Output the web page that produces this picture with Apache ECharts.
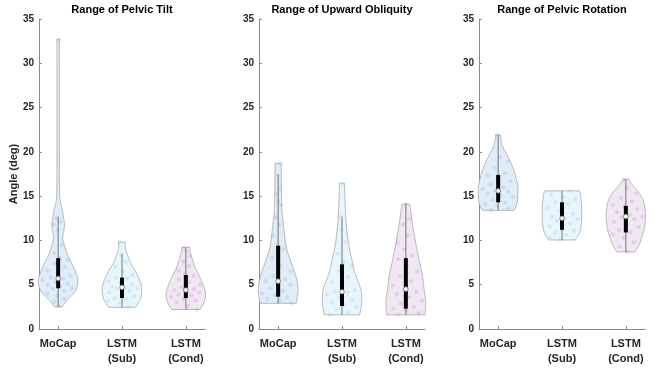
<!DOCTYPE html>
<html>
<head>
<meta charset="utf-8">
<script src="https://cdn.jsdelivr.net/npm/echarts@6/dist/echarts.min.js"></script>
<style>
html, body { margin: 0; padding: 0; background: #fff; }
#chart { width: 662px; height: 368px; }
</style>
</head>
<body>
<div id="chart"></div>
<script>
// groups and panel titles
const groups = ['MoCap', 'LSTM\n(Sub)', 'LSTM\n(Cond)']
const titles = ['Range of Pelvic Tilt', 'Range of Upward Obliquity', 'Range of Pelvic Rotation']

// violin outlines: [angle, relative half width] from min to max
const tiltOutlines = [
  [[2.5, 0.2], [3, 0.36], [3.5, 0.56], [4, 0.77], [4.5, 0.92], [5.5, 1], [6.5, 0.87], [7.5, 0.67], [8.5, 0.46], [9.5, 0.31], [10.3, 0.23], [11, 0.28], [11.8, 0.32], [12.5, 0.28], [13.5, 0.2], [14.5, 0.1], [16, 0.065], [20, 0.06], [30, 0.06], [32.7, 0.06]],
  [[2.45, 0.68], [3, 0.84], [3.5, 0.95], [4.5, 1], [5.5, 0.89], [6.5, 0.68], [7.5, 0.42], [8.5, 0.26], [9, 0.18], [9.8, 0.16]],
  [[2.2, 0.72], [3, 0.92], [4, 1], [5, 0.87], [6, 0.67], [7, 0.46], [8, 0.31], [8.7, 0.23], [9.2, 0.2]]
]
const obliquityOutlines = [
  [[2.9, 0.91], [3.65, 0.97], [4.8, 1], [6.3, 0.85], [7.8, 0.61], [9.3, 0.41], [11.5, 0.28], [13.5, 0.19], [15.3, 0.17], [17, 0.16], [18.7, 0.15]],
  [[1.6, 0.89], [2.5, 0.97], [3.5, 1], [4.5, 0.95], [5.5, 0.79], [6.5, 0.63], [7.8, 0.5], [9.5, 0.34], [11.5, 0.23], [13.5, 0.17], [15.3, 0.14], [16.45, 0.13]],
  [[1.6, 0.97], [2.5, 1], [3.3, 1], [4.5, 0.92], [5.9, 0.85], [7.8, 0.67], [9.7, 0.5], [11.5, 0.36], [13.4, 0.24], [14.1, 0.19]]
]
const rotationOutlines = [
  [[13.4, 0.8], [14, 0.93], [14.6, 0.98], [16, 1], [17, 0.91], [18, 0.78], [19, 0.6], [19.5, 0.48], [20.6, 0.23], [21.3, 0.16], [21.9, 0.13]],
  [[10.05, 0.67], [10.5, 0.81], [11, 0.91], [12, 0.99], [13, 1], [14, 0.99], [15, 0.94], [15.6, 0.89]],
  [[8.7, 0.46], [9.2, 0.59], [9.7, 0.71], [10.5, 0.82], [11.2, 0.92], [12, 0.97], [12.9, 1], [13.8, 0.95], [14.6, 0.87], [15.2, 0.72], [15.7, 0.56], [16.3, 0.31], [16.9, 0.15]]
]

// box stats: [whisker low, q1, median, q3, whisker high]
const tiltBoxes = [[2.5, 4.6, 5.7, 8.0, 12.7], [2.45, 3.5, 4.7, 5.8, 8.5], [2.2, 3.5, 4.4, 6.1, 9.2]]
const obliquityBoxes = [[2.9, 3.65, 5.4, 9.4, 17.4], [1.6, 2.6, 4.2, 7.3, 12.7], [1.6, 2.3, 4.5, 8.0, 14.1]]
const rotationBoxes = [[13.4, 14.3, 15.6, 17.4, 21.9], [10.05, 11.2, 12.5, 14.3, 15.6], [8.7, 10.9, 12.7, 13.9, 16.9]]

// individual observations (jittered dots)
const tiltPoints = [
  [2.6, 3.1, 3.4, 3.8, 4.0, 4.3, 4.5, 4.6, 4.8, 5.0, 5.1, 5.3, 5.5, 5.7, 5.8, 6.0, 6.3, 6.6, 7.0, 7.4, 7.8, 8.0, 8.6, 9.5, 11.2, 11.8, 12.1, 12.5, 32.7],
  [2.5, 2.9, 3.2, 3.4, 3.5, 3.7, 3.9, 4.1, 4.3, 4.5, 4.6, 4.7, 4.8, 5.0, 5.2, 5.4, 5.7, 5.8, 6.1, 6.5, 7.0, 7.6, 8.3, 9.8],
  [2.2, 2.6, 3.0, 3.2, 3.4, 3.6, 3.8, 3.9, 4.1, 4.3, 4.4, 4.5, 4.7, 5.0, 5.3, 5.6, 6.0, 6.2, 6.6, 7.1, 7.6, 8.2, 8.8, 9.2]
]
const obliquityPoints = [
  [2.9, 3.2, 3.4, 3.6, 3.8, 4.0, 4.3, 4.6, 5.0, 5.2, 5.4, 5.6, 6.0, 6.5, 7.2, 8.0, 9.0, 9.6, 10.5, 11.8, 12.6, 14.0, 14.5, 15.2, 15.8, 17.4, 18.7],
  [1.6, 1.9, 2.2, 2.5, 2.7, 3.0, 3.3, 3.6, 3.9, 4.1, 4.2, 4.4, 4.8, 5.3, 5.9, 6.5, 7.2, 7.6, 8.5, 9.8, 11.2, 12.7, 16.4],
  [1.6, 1.8, 2.1, 2.3, 2.5, 2.9, 3.2, 3.6, 3.9, 4.2, 4.5, 4.9, 5.4, 5.9, 6.5, 7.2, 7.9, 8.3, 9.0, 9.7, 10.6, 11.8, 12.4, 14.1]
]
const rotationPoints = [
  [13.4, 13.6, 13.9, 14.1, 14.3, 14.6, 14.9, 15.1, 15.3, 15.5, 15.6, 15.8, 16.0, 16.3, 16.7, 17.1, 17.4, 17.6, 18.2, 18.9, 19.4, 21.9],
  [10.05, 10.3, 10.6, 10.9, 11.1, 11.3, 11.6, 11.9, 12.2, 12.4, 12.5, 12.7, 13.0, 13.3, 13.7, 14.1, 14.3, 14.6, 14.9, 15.2, 15.6],
  [8.7, 9.3, 9.8, 10.3, 10.7, 10.9, 11.2, 11.5, 11.8, 12.1, 12.4, 12.6, 12.7, 12.9, 13.2, 13.5, 13.8, 14.0, 14.4, 14.8, 15.3, 15.9, 16.9]
]

const outlines = [tiltOutlines, obliquityOutlines, rotationOutlines]
const boxes = [tiltBoxes, obliquityBoxes, rotationBoxes]
const points = [tiltPoints, obliquityPoints, rotationPoints]

const FONT = 'Arial, "Liberation Sans", sans-serif'
const VIOLIN_WIDTH = 0.31
const fillColors = ['#e0ecf7', '#e8f5fc', '#f0e7f2']
const dotColors = ['rgba(120,175,225,0.25)', 'rgba(140,205,238,0.28)', 'rgba(185,130,205,0.25)']
const gridLefts = [39, 259, 479]
const gridWidth = 166

// catmull-rom through the outline points so the violin sides are smooth
function spline (pts) {
  const out = []
  const steps = 6
  for (let i = 0; i < pts.length - 1; i++) {
    const p0 = pts[i - 1] || pts[i]
    const p1 = pts[i]
    const p2 = pts[i + 1]
    const p3 = pts[i + 2] || pts[i + 1]
    for (let s = 0; s < steps; s++) {
      const t = s / steps
      const t2 = t * t
      const t3 = t2 * t
      const f = (a, b, c, d) => 0.5 * ((2 * b) + (-a + c) * t + (2 * a - 5 * b + 4 * c - d) * t2 + (-a + 3 * b - 3 * c + d) * t3)
      out.push([f(p0[0], p1[0], p2[0], p3[0]), f(p0[1], p1[1], p2[1], p3[1])])
    }
  }
  out.push(pts[pts.length - 1])
  return out
}

function widthAt (outline, v) {
  for (let i = 0; i < outline.length - 1; i++) {
    if (v >= outline[i][0] && v <= outline[i + 1][0]) {
      const r = (v - outline[i][0]) / (outline[i + 1][0] - outline[i][0] || 1)
      return outline[i][1] + r * (outline[i + 1][1] - outline[i][1])
    }
  }
  return outline[outline.length - 1][1]
}

function violinRenderer (panel) {
  return function (params, api) {
    const k = params.dataIndex
    const c = api.value(0)
    const outline = outlines[panel][k]
    const box = boxes[panel][k]
    const half = api.size([VIOLIN_WIDTH, 0])[0]
    const cx = api.coord([c, 0])[0]
    const yOf = v => api.coord([c, v])[1]
    const right = spline(outline.map(o => [cx + o[1] * half, yOf(o[0])]))
    const left = spline(outline.map(o => [cx - o[1] * half, yOf(o[0])]))
    const poly = right.concat(left.reverse())
    const children = [{
      type: 'polygon',
      shape: { points: poly },
      style: { fill: fillColors[k], stroke: '#a8a8a8', lineWidth: 0.8 }
    }]
    points[panel][k].forEach((v, i) => {
      const seq = ((i + 1) * 0.6180339887 + panel * 0.31 + k * 0.17) % 1
      const dx = (seq * 2 - 1) * widthAt(outline, v) * half * 0.85
      children.push({
        type: 'circle',
        shape: { cx: cx + dx, cy: yOf(v), r: 2.1 },
        style: { fill: dotColors[k] }
      })
    })
    children.push({
      type: 'line',
      shape: { x1: cx, y1: yOf(box[0]), x2: cx, y2: yOf(box[4]) },
      style: { stroke: '#777', lineWidth: 1 }
    })
    children.push({
      type: 'rect',
      shape: { x: cx - 2, y: yOf(box[3]), width: 4, height: yOf(box[1]) - yOf(box[3]) },
      style: { fill: '#000' }
    })
    children.push({
      type: 'circle',
      shape: { cx: cx, cy: yOf(box[2]), r: 2.3 },
      style: { fill: '#fff', stroke: '#777', lineWidth: 0.8 }
    })
    return { type: 'group', children: children }
  }
}

const chart = echarts.init(document.getElementById('chart'))

const grid = gridLefts.map(l => ({ left: l, width: gridWidth, top: 19, bottom: 39 }))
const xAxis = gridLefts.map((l, i) => ({
  type: 'value',
  gridIndex: i,
  min: 0.7,
  max: 3.3,
  splitLine: { show: false },
  axisLine: { lineStyle: { color: '#8a8a8a', width: 1 } },
  axisTick: { inside: true, length: 3, customValues: [1, 2, 3], lineStyle: { color: '#8a8a8a' } },
  axisLabel: {
    customValues: [1, 2, 3],
    formatter: v => groups[Math.round(v) - 1],
    color: '#262626',
    fontWeight: 'bold',
    fontSize: 11,
    fontFamily: FONT,
    lineHeight: 15,
    margin: 7
  }
}))
const yAxis = gridLefts.map((l, i) => ({
  type: 'value',
  gridIndex: i,
  min: 0,
  max: 35,
  interval: 5,
  name: i === 0 ? 'Angle (deg)' : '',
  nameLocation: 'middle',
  nameGap: 14,
  nameTextStyle: { color: '#262626', fontWeight: 'bold', fontSize: 11, fontFamily: FONT },
  splitLine: { show: false },
  axisLine: { show: true, lineStyle: { color: '#8a8a8a', width: 1 } },
  axisTick: { show: true, inside: true, length: 3, lineStyle: { color: '#8a8a8a' } },
  axisLabel: { color: '#262626', fontWeight: 'bold', fontSize: 10, fontFamily: FONT, margin: 5 }
}))

const series = gridLefts.map((l, i) => ({
  type: 'custom',
  xAxisIndex: i,
  yAxisIndex: i,
  renderItem: violinRenderer(i),
  data: [[1], [2], [3]],
  silent: true
}))

const option = {
  animation: false,
  backgroundColor: '#fff',
  grid: grid,
  xAxis: xAxis,
  yAxis: yAxis,
  series: series,
  graphic: titles.map((t, i) => ({
    type: 'text',
    x: gridLefts[i] + gridWidth / 2,
    y: 10,
    style: { text: t, align: 'center', verticalAlign: 'middle', fill: '#000', font: 'bold 11px ' + FONT }
  }))
}
chart.setOption(option)
</script>
</body>
</html>
